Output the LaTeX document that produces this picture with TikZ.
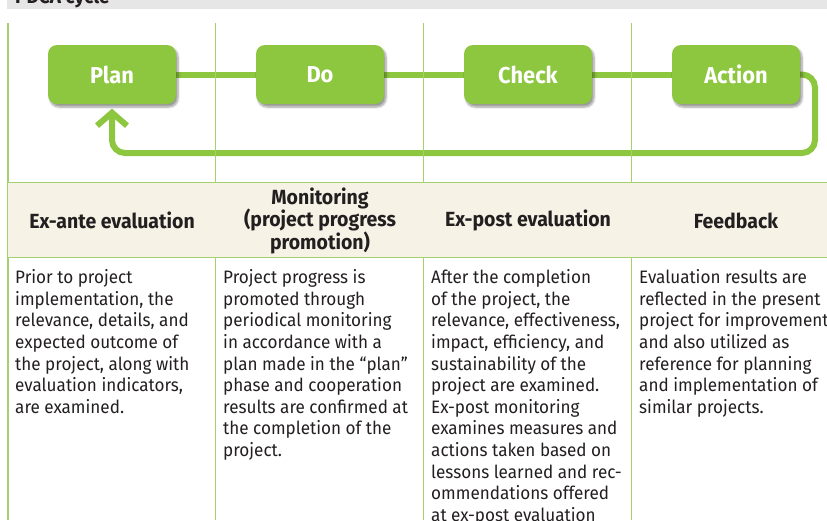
\documentclass[tikz,border=0pt]{standalone}
\usepackage{fontspec}
\setmainfont{Fira Sans}[FakeStretch=0.95]
\usetikzlibrary{arrows.meta,shadows,shadows.blur,backgrounds,calc}
\definecolor{pgreen}{HTML}{8DC63F}
\definecolor{gridgreen}{HTML}{A6D06E}
\definecolor{headfill}{HTML}{F6F3E6}
\definecolor{bargray}{HTML}{E6E6E6}
\definecolor{ink}{HTML}{231F20}
\begin{document}
\begin{tikzpicture}[x=1pt,y=-1pt,
  phase/.style={fill=pgreen, rounded corners=9pt, minimum width=128pt, minimum height=59pt,
    text=white, font=\bfseries\fontsize{23}{26}\selectfont,
    blur shadow={shadow xshift=2pt, shadow yshift=-3pt, shadow blur steps=6, shadow opacity=40}},
  link/.style={pgreen, line width=6pt},
  gridline/.style={gridgreen, line width=1.2pt},
  head/.style={align=center, text=ink, font=\bfseries\fontsize{20.5}{22.5}\selectfont},
  body/.style={align=left, text=ink, anchor=north west, inner sep=0pt, font=\fontsize{18}{21.6}\selectfont},
]
\useasboundingbox (0,0) rectangle (827,520);
\clip (0,0) rectangle (827,520);
% title bar
\fill[bargray] (7,-10) rectangle (827,9);
\node[anchor=base west, inner sep=0pt, text=ink, font=\bfseries\fontsize{20}{24}\selectfont] (title) at (15,3) {PDCA cycle};
% header row fill
\fill[headfill] (8,183) rectangle (827,257);
% phase boxes
\node[phase] (plan) at (112,74.5) {Plan};
\node[phase] (do) at (320,74.5) {Do};
\node[phase] (check) at (528,74.5) {Check};
\node[phase] (act) at (736,74.5) {Action};
\begin{scope}[on background layer]
  \draw[link] (plan) -- (do);
  \draw[link] (do) -- (check);
  \draw[link] (check) -- (act);
  \draw[link, rounded corners=13pt, -{Straight Barb[length=13pt,width=30pt]}]
    (act.east) -| (815,153) -| ($(plan.south)+(0,4.5)$);
  % grid
  \draw[gridline] (8,23) -- (8,520);
  \draw[gridline] (215.5,23) -- (215.5,520);
  \draw[gridline] (423.5,23) -- (423.5,520);
  \draw[gridline] (631.5,23) -- (631.5,520);
  \draw[gridline] (8,183) -- (827,183);
  \draw[gridline] (8,257) -- (827,257);
\end{scope}
% headers
\node[head] (h1) at (112,220.5) {Ex-ante evaluation};
\node[head] (h2) at (320,220.5) {Monitoring\\(project progress\\promotion)};
\node[head] (h3) at (528,220.5) {Ex-post evaluation};
\node[head] (h4) at (736,220.5) {Feedback};
% bodies
\node[body] (b1) at (15,269.5) {Prior to project\\implementation, the\\relevance, details, and\\expected outcome of\\the project, along with\\evaluation indicators,\\are examined.};
\node[body] (b2) at (223,269.5) {Project progress is\\promoted through\\periodical monitoring\\in accordance with a\\plan made in the “plan”\\phase and cooperation\\results are confirmed at\\the completion of the\\project.};
\node[body] (b3) at (431,269.5) {After the completion\\of the project, the\\relevance, effectiveness,\\impact, efficiency, and\\sustainability of the\\project are examined.\\Ex-post monitoring\\examines measures and\\actions taken based on\\lessons learned and rec-\\ommendations offered\\at ex-post evaluation};
\node[body] (b4) at (639,269.5) {Evaluation results are\\reflected in the present\\project for improvement\\and also utilized as\\reference for planning\\and implementation of\\similar projects.};
\end{tikzpicture}
\end{document}
